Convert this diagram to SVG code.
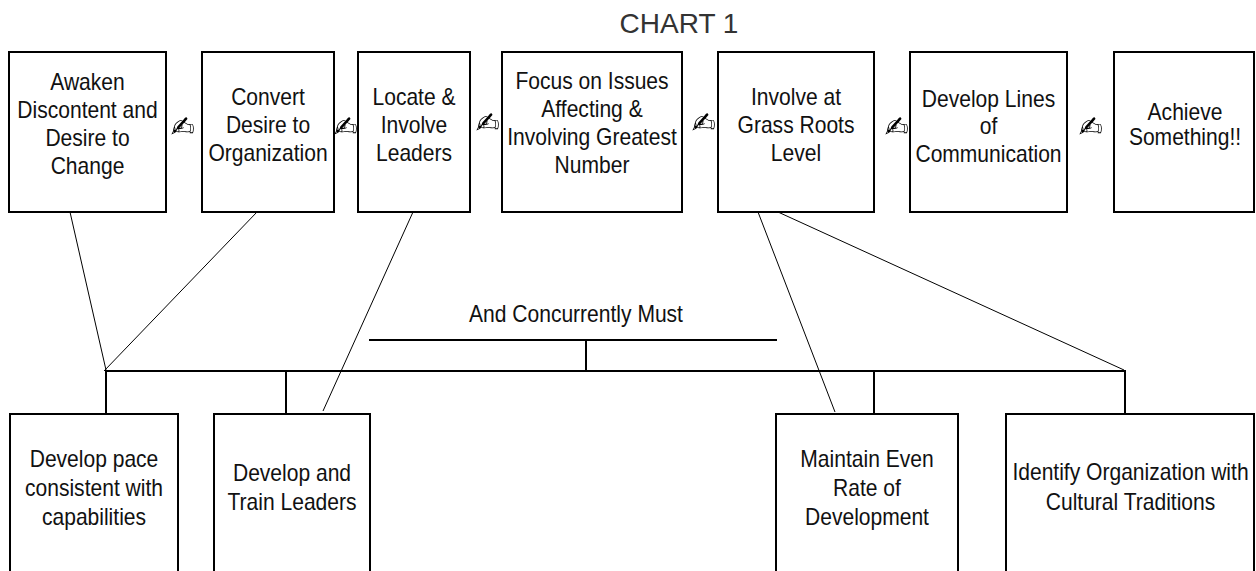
<svg xmlns="http://www.w3.org/2000/svg" width="1256" height="571" viewBox="0 0 1256 571">
<defs>
<filter id="gray" x="-20%" y="-20%" width="140%" height="140%">
<feColorMatrix type="saturate" values="0"/>
<feComponentTransfer><feFuncR type="linear" slope="1.6" intercept="-0.45"/><feFuncG type="linear" slope="1.6" intercept="-0.45"/><feFuncB type="linear" slope="1.6" intercept="-0.45"/></feComponentTransfer>
</filter>
</defs>
<style>
.box{fill:#fff;stroke:#000;stroke-width:2}
.t{font-family:"Liberation Sans",Arial,sans-serif;font-size:23px;fill:#111;text-anchor:middle}
.w{font-family:"DejaVu Sans",sans-serif;font-size:29px;fill:#222;text-anchor:middle;filter:url(#gray)}
.ln{stroke:#000;stroke-width:2;fill:none}
.dg{stroke:#000;stroke-width:1;fill:none}
.title{font-family:"Liberation Sans",Arial,sans-serif;font-size:28px;fill:#333;text-anchor:middle}
</style>
<rect width="1256" height="571" fill="#fff"/>
<text class="title" x="679" y="33">CHART 1</text>

<g id="connectors">
<line class="ln" x1="369" y1="340" x2="777" y2="340"/>
<line class="ln" x1="586" y1="340" x2="586" y2="371"/>
<line class="ln" x1="105" y1="371" x2="1126" y2="371"/>
<line class="ln" x1="106" y1="371" x2="106" y2="414"/>
<line class="ln" x1="286" y1="371" x2="286" y2="414"/>
<line class="ln" x1="874" y1="371" x2="874" y2="414"/>
<line class="ln" x1="1125" y1="371" x2="1125" y2="414"/>
<line class="dg" x1="70" y1="212" x2="106" y2="370"/>
<line class="dg" x1="257" y1="212" x2="104" y2="371"/>
<line class="dg" x1="413" y1="212" x2="323" y2="411"/>
<line class="dg" x1="758" y1="212" x2="835" y2="412"/>
<line class="dg" x1="778" y1="212" x2="1124" y2="370"/>
<text class="w" x="183" y="137">&#x270D;&#xFE0E;</text>
<text class="w" x="346" y="137">&#x270D;&#xFE0E;</text>
<text class="w" x="488" y="133">&#x270D;&#xFE0E;</text>
<text class="w" x="704" y="133">&#x270D;&#xFE0E;</text>
<text class="w" x="897" y="137">&#x270D;&#xFE0E;</text>
<text class="w" x="1091" y="137">&#x270D;&#xFE0E;</text>
<g transform="translate(576 0) scale(0.915 1)"><text class="t" x="0" y="322">And Concurrently Must</text></g>
</g>

<g id="n1"><rect class="box" x="9" y="52" width="157" height="160"/>
<g transform="translate(87.5 0) scale(0.915 1)"><text class="t"><tspan x="0" y="90">Awaken</tspan><tspan x="0" y="118">Discontent and</tspan><tspan x="0" y="146">Desire to</tspan><tspan x="0" y="174">Change</tspan></text></g></g>
<g id="n2"><rect class="box" x="202" y="52" width="132" height="160"/>
<g transform="translate(268 0) scale(0.915 1)"><text class="t"><tspan x="0" y="105">Convert</tspan><tspan x="0" y="133">Desire to</tspan><tspan x="0" y="161">Organization</tspan></text></g></g>
<g id="n3"><rect class="box" x="358" y="52" width="112" height="160"/>
<g transform="translate(414 0) scale(0.915 1)"><text class="t"><tspan x="0" y="105">Locate &amp;</tspan><tspan x="0" y="133">Involve</tspan><tspan x="0" y="161">Leaders</tspan></text></g></g>
<g id="n4"><rect class="box" x="502" y="52" width="180" height="160"/>
<g transform="translate(592 0) scale(0.915 1)"><text class="t"><tspan x="0" y="89">Focus on Issues</tspan><tspan x="0" y="117">Affecting &amp;</tspan><tspan x="0" y="145">Involving Greatest</tspan><tspan x="0" y="173">Number</tspan></text></g></g>
<g id="n5"><rect class="box" x="718" y="52" width="156" height="160"/>
<g transform="translate(796 0) scale(0.915 1)"><text class="t"><tspan x="0" y="105">Involve at</tspan><tspan x="0" y="133">Grass Roots</tspan><tspan x="0" y="161">Level</tspan></text></g></g>
<g id="n6"><rect class="box" x="910" y="52" width="157" height="160"/>
<g transform="translate(988.5 0) scale(0.915 1)"><text class="t"><tspan x="0" y="107">Develop Lines</tspan><tspan x="0" y="134">of</tspan><tspan x="0" y="162">Communication</tspan></text></g></g>
<g id="n7"><rect class="box" x="1114" y="52" width="140" height="160"/>
<g transform="translate(1185 0) scale(0.915 1)"><text class="t"><tspan x="0" y="120">Achieve</tspan><tspan x="0" y="145">Something!!</tspan></text></g></g>

<g id="b1"><rect class="box" x="10" y="414" width="168" height="180"/>
<g transform="translate(94 0) scale(0.915 1)"><text class="t"><tspan x="0" y="467">Develop pace</tspan><tspan x="0" y="496">consistent with</tspan><tspan x="0" y="525">capabilities</tspan></text></g></g>
<g id="b2"><rect class="box" x="214" y="414" width="156" height="180"/>
<g transform="translate(292 0) scale(0.915 1)"><text class="t"><tspan x="0" y="481">Develop and</tspan><tspan x="0" y="510">Train Leaders</tspan></text></g></g>
<g id="b3"><rect class="box" x="776" y="414" width="182" height="180"/>
<g transform="translate(867 0) scale(0.915 1)"><text class="t"><tspan x="0" y="467">Maintain Even</tspan><tspan x="0" y="496">Rate of</tspan><tspan x="0" y="525">Development</tspan></text></g></g>
<g id="b4"><rect class="box" x="1006" y="414" width="248" height="180"/>
<g transform="translate(1130.5 0) scale(0.915 1)"><text class="t"><tspan x="0" y="480">Identify Organization with</tspan><tspan x="0" y="510">Cultural Traditions</tspan></text></g></g>
</svg>
